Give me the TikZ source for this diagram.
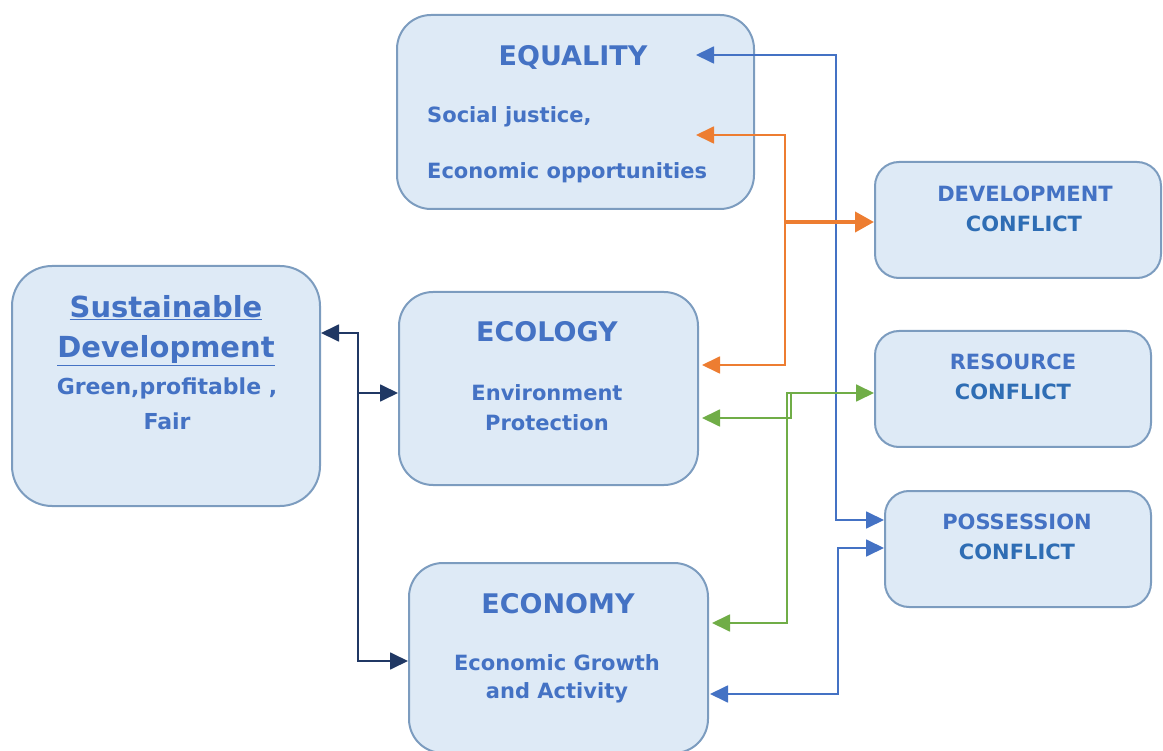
\documentclass[tikz,border=0pt]{standalone}
\usepackage{fontspec}
\setmainfont{DejaVu Sans}
\usetikzlibrary{arrows.meta,calc}
\definecolor{boxfill}{HTML}{DEEAF6}
\definecolor{boxline}{HTML}{7C9CBF}
\definecolor{txt}{HTML}{4472C4}
\definecolor{txtb}{HTML}{2E6DB4}
\definecolor{orng}{HTML}{ED7D31}
\definecolor{grn}{HTML}{70AD47}
\definecolor{blu}{HTML}{4472C4}
\definecolor{nvy}{HTML}{203864}
\tikzset{
  box/.style={draw=boxline, fill=boxfill, line width=2pt, rounded corners=#1, inner sep=0pt},
  box/.default=34pt,
  ttl/.style={text=txt, font=\bfseries\fontsize{27}{30}\selectfont, inner sep=0pt},
  sub/.style={text=txt, font=\bfseries\fontsize{21}{24}\selectfont, inner sep=0pt},
  cft/.style={text=txt, font=\bfseries\fontsize{21}{24}\selectfont, inner sep=0pt},
  cfb/.style={text=txtb, font=\bfseries\fontsize{21}{24}\selectfont, inner sep=0pt},
  tip/.tip={Triangle[length=18pt,width=17pt]},
  conn/.style={line width=1.8pt, -tip},
  both/.style={line width=1.8pt, tip-tip},
  tail/.style={line width=1.8pt, tip-},
}
\begin{document}
\begin{tikzpicture}[x=1pt,y=-1pt]
\useasboundingbox (0,0) rectangle (1163,751);
% boxes
\node[box=40pt, minimum width=308pt, minimum height=240pt] (sd) at (166,386) {};
\node[box, minimum width=357pt, minimum height=194pt] (eq) at (575.5,112) {};
\node[box, minimum width=299pt, minimum height=193pt] (eco) at (548.5,388.5) {};
\node[box, minimum width=299pt, minimum height=190pt] (ec) at (558.5,658) {};
\node[box=24pt, minimum width=286pt, minimum height=116pt] (dev) at (1018,220) {};
\node[box=24pt, minimum width=276pt, minimum height=116pt] (res) at (1013,389) {};
\node[box=24pt, minimum width=266pt, minimum height=116pt] (pos) at (1018,549) {};
% texts
\node[ttl, font=\bfseries\fontsize{29}{32}\selectfont] (sd1) at (166,308) {\underline{Sustainable}};
\node[ttl, font=\bfseries\fontsize{29}{32}\selectfont] (sd2) at (166,351) {\underline{Development}};
\node[sub, font=\bfseries\fontsize{22}{24}\selectfont] (sd3) at (167,388) {Green,profitable ,};
\node[sub, font=\bfseries\fontsize{22}{24}\selectfont] (sd4) at (167,421) {Fair};
\node[ttl] (eq1) at (573,57) {EQUALITY};
\node[sub, anchor=west] (eq2) at (427,117) {Social justice,};
\node[sub, anchor=west] (eq3) at (427,173) {Economic opportunities};
\node[ttl] (eco1) at (547,332) {ECOLOGY};
\node[sub] (eco2) at (547,393) {Environment};
\node[sub] (eco3) at (547,423) {Protection};
\node[ttl] (ec1) at (558,604) {ECONOMY};
\node[sub] (ec2) at (557,663) {Economic Growth};
\node[sub] (ec3) at (557,693) {and Activity};
\node[cft] (dev1) at (1025,194) {DEVELOPMENT};
\node[cfb] (dev2) at (1024,224) {CONFLICT};
\node[cft] (res1) at (1013,362) {RESOURCE};
\node[cfb] (res2) at (1013,392) {CONFLICT};
\node[cft] (pos1) at (1017,522) {POSSESSION};
\node[cfb] (pos2) at (1017,552) {CONFLICT};
% free ends inside boxes
\coordinate (eqA) at ($(eq.east)+(-59,-57)$);
\coordinate (eqB) at ($(eq.east)+(-59,23)$);
\coordinate (ecoA) at ($(eco.east)+(3,-23.5)$);
\coordinate (ecoB) at ($(eco.east)+(3,29.5)$);
\coordinate (ecA) at ($(ec.east)+(3,-35)$);
\coordinate (ecB) at ($(ec.east)+(1,36)$);
% navy
\draw[nvy, both] (sd.east |- 0,333) -- (358,333) -- (358,661) -- (ec.west |- 0,661);
\draw[nvy, conn] (358,393) -- (eco.west |- 0,393);
% blue top
\draw[blu, both] (eqA) -- (836,55) -- (836,520) -- (pos.west |- 0,520);
% orange
\draw[orng, both] (eqB) -- (785,135) -- (785,365) -- (ecoA);
\draw[orng, line width=4pt, -{Triangle[length=19pt,width=20pt]}] (785,222) -- (dev.west |- 0,222);
% green
\draw[grn, both] (ecoB) -- (791,418) -- (791,393) -- (res.west |- 0,393);
\draw[grn, tail] (ecA) -- (787,623) -- (787,393) -- (791,393);
% blue bottom
\draw[blu, both] (ecB) -- (838,694) -- (838,548) -- (pos.west |- 0,548);
\end{tikzpicture}
\end{document}
